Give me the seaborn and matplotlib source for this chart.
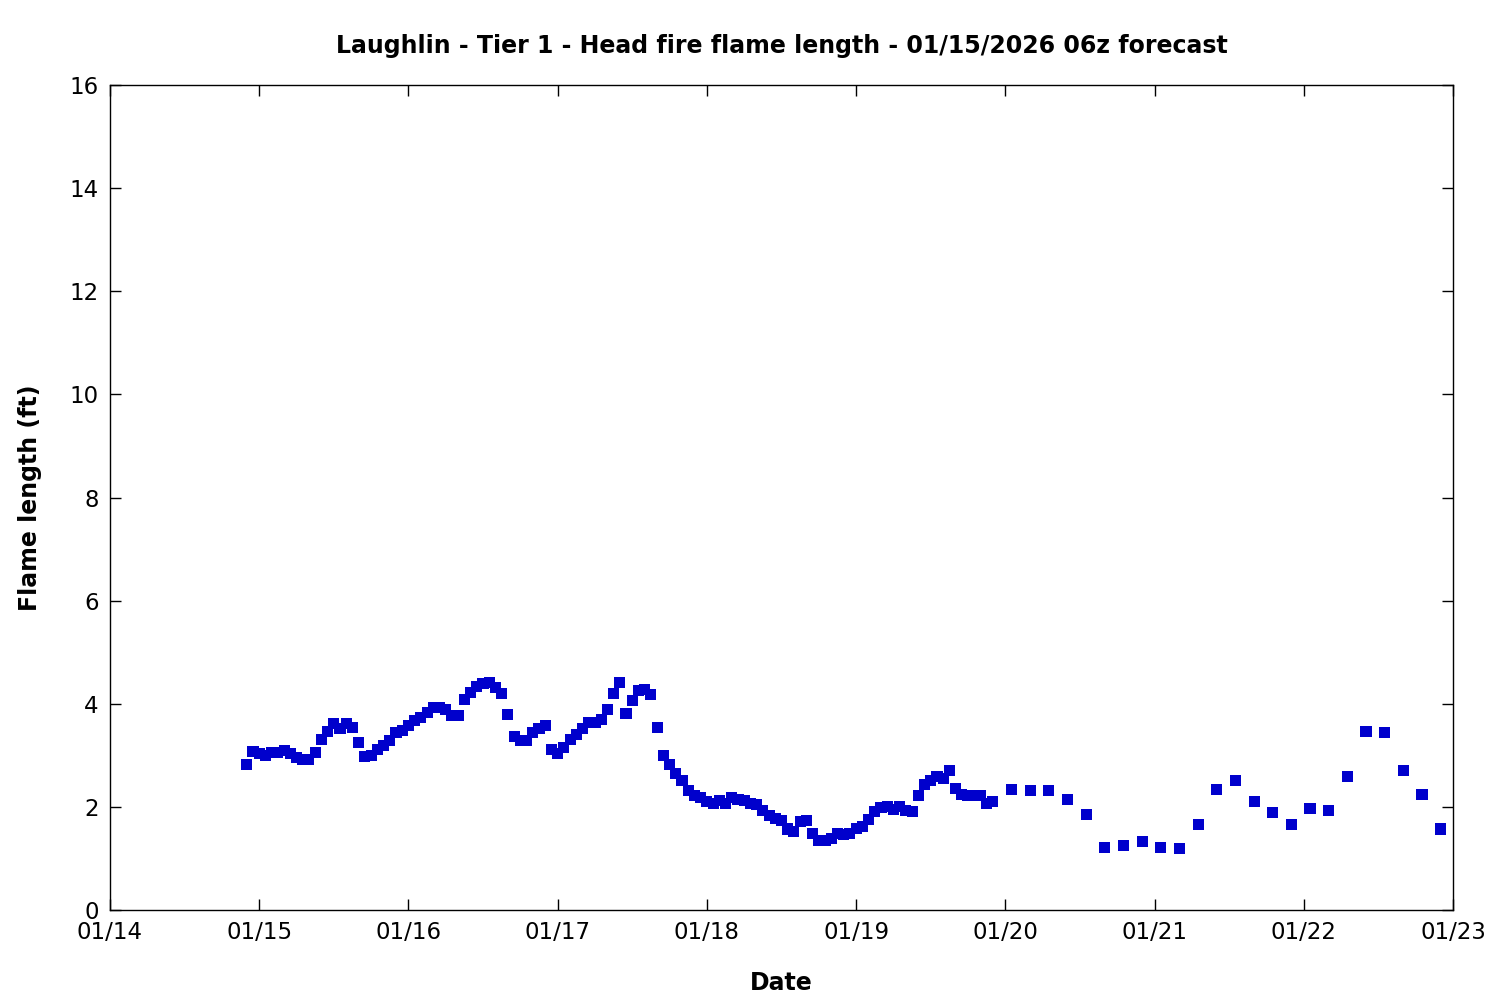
import matplotlib
matplotlib.use("Agg")
import matplotlib.pyplot as plt
import seaborn as sns
import pandas as pd

title = "Laughlin - Tier 1 - Head fire flame length - 01/15/2026 06z forecast"

# hourly values from 2026-01-14 22z to 2026-01-19 22z
hourly_start = "2026-01-14 22:00"
hourly_values = [
    2.83, 3.08, 3.03, 3.00, 3.06, 3.06, 3.10, 3.04, 2.96, 2.92,
    2.92, 3.06, 3.31, 3.47, 3.61, 3.52, 3.61, 3.54, 3.25, 2.98,
    3.00, 3.12, 3.19, 3.29, 3.45, 3.48, 3.58, 3.67, 3.74, 3.83,
    3.92, 3.92, 3.89, 3.78, 3.78, 4.09, 4.22, 4.34, 4.40, 4.42,
    4.32, 4.20, 3.80, 3.37, 3.29, 3.29, 3.45, 3.52, 3.58, 3.12,
    3.04, 3.16, 3.31, 3.41, 3.52, 3.64, 3.64, 3.70, 3.89, 4.20,
    4.42, 3.81, 4.07, 4.26, 4.28, 4.18, 3.54, 3.00, 2.83, 2.65,
    2.52, 2.32, 2.22, 2.18, 2.11, 2.07, 2.13, 2.07, 2.18, 2.15,
    2.13, 2.07, 2.05, 1.93, 1.84, 1.78, 1.74, 1.57, 1.53, 1.72,
    1.74, 1.49, 1.35, 1.35, 1.39, 1.49, 1.47, 1.49, 1.58, 1.62,
    1.76, 1.91, 1.99, 2.01, 1.95, 2.01, 1.93, 1.91, 2.22, 2.44,
    2.52, 2.59, 2.55, 2.71, 2.36, 2.24, 2.22, 2.22, 2.22, 2.07,
    2.11,
]

# 3-hourly values from 2026-01-20 01z to 2026-01-22 22z
three_hourly_start = "2026-01-20 01:00"
three_hourly_values = [
    2.34, 2.32, 2.32, 2.15, 1.86, 1.22, 1.25, 1.33, 1.22, 1.20,
    1.66, 2.34, 2.52, 2.11, 1.89, 1.66, 1.97, 1.93, 2.59, 3.47,
    3.45, 2.71, 2.24, 1.57,
]

x_tick_labels = ["01/14", "01/15", "01/16", "01/17", "01/18",
                 "01/19", "01/20", "01/21", "01/22", "01/23"]
y_ticks = [0, 2, 4, 6, 8, 10, 12, 14, 16]

times = list(pd.date_range(hourly_start, periods=len(hourly_values), freq="h")) + \
        list(pd.date_range(three_hourly_start, periods=len(three_hourly_values), freq="3h"))
df = pd.DataFrame({"time": times, "flame": hourly_values + three_hourly_values})

sns.set_theme(style="ticks")
plt.rcParams["font.family"] = ["DejaVu Sans"]
for k in ["text.color", "axes.labelcolor", "xtick.color", "ytick.color", "axes.edgecolor"]:
    plt.rcParams[k] = "black"

fig = plt.figure(figsize=(15, 10), dpi=100)
ax = fig.add_axes([0.0733, 0.09, 0.8954, 0.825])

sns.scatterplot(data=df, x="time", y="flame", marker="s", s=64,
                color="#0000CC", edgecolor="none", linewidth=0, ax=ax)

tick_dates = pd.to_datetime(["2026-" + t.replace("/", "-") for t in x_tick_labels])
ax.set_xlim(tick_dates[0], tick_dates[-1])
ax.set_xticks(tick_dates)
ax.set_xticklabels(x_tick_labels)
ax.set_ylim(0, 16)
ax.set_yticks(y_ticks)
ax.set_yticklabels([str(v) for v in y_ticks])

for sp in ax.spines.values():
    sp.set_visible(True)
    sp.set_linewidth(1.0)
    sp.set_color("black")

ax.tick_params(axis="both", which="major", direction="in", length=8, width=1,
               top=True, right=True, labelsize=16.5, pad=8, colors="black")

ax.set_title(title, fontsize=17, fontweight="bold", pad=23, color="black")
ax.set_xlabel("Date", fontsize=17, fontweight="bold", labelpad=19, color="black")
ax.set_ylabel("Flame length (ft)", fontsize=17, fontweight="bold", labelpad=20, color="black")

fig.savefig("out.png", dpi=100)
